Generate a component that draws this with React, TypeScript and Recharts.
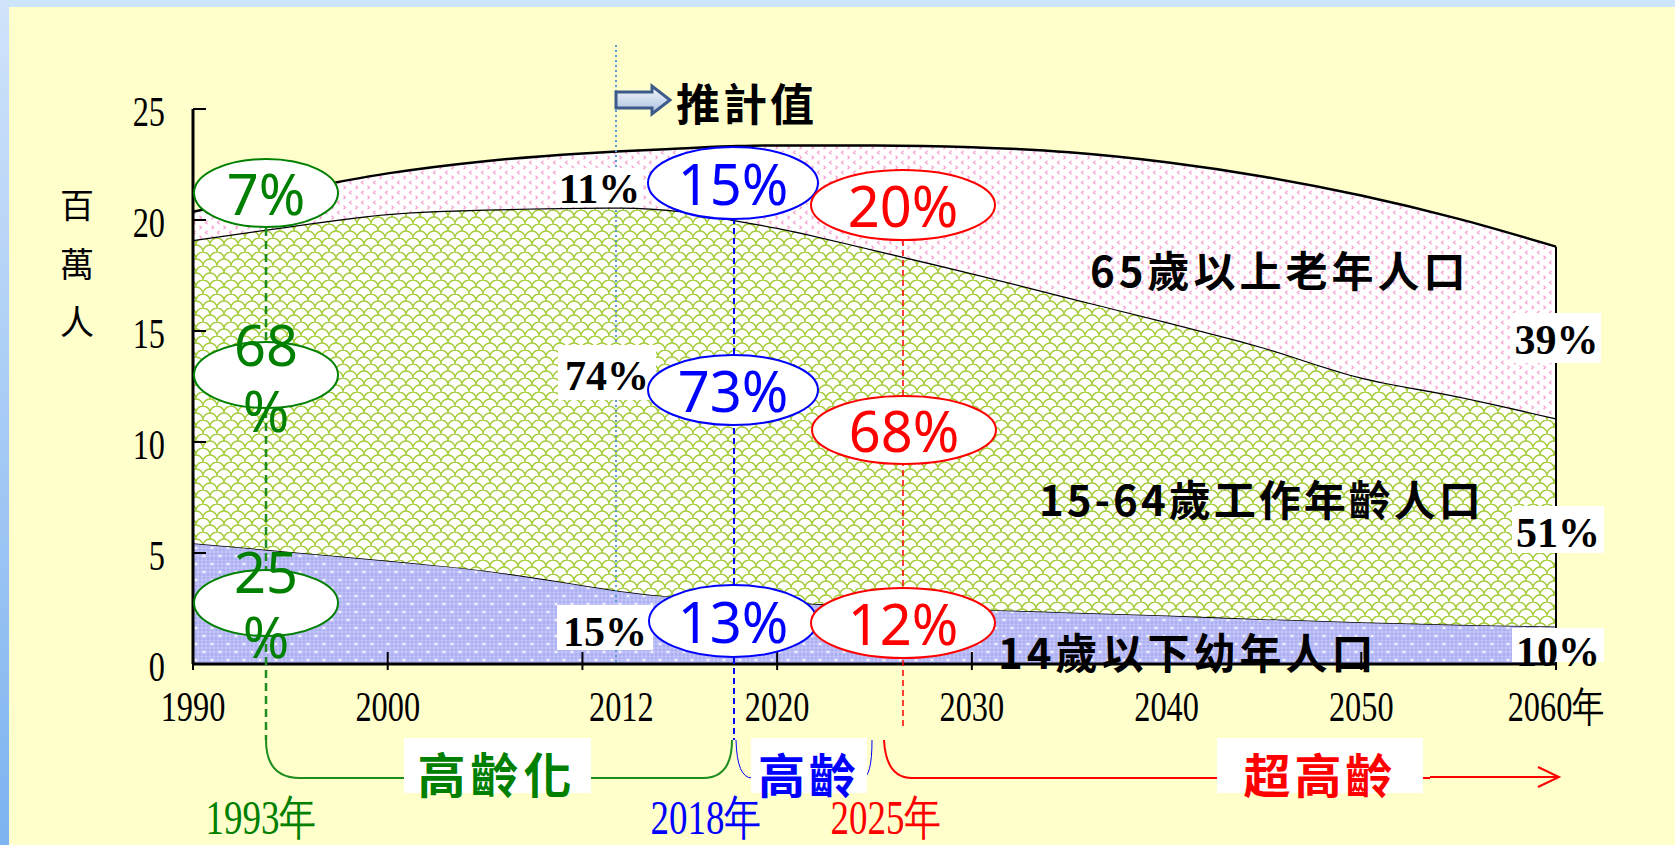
import React from 'react';
import { AreaChart, Area, XAxis, YAxis, ReferenceLine } from 'recharts';

// population by age group, millions
const years = [1990, 1995, 2000, 2005, 2010, 2012, 2015, 2018, 2020, 2025, 2030, 2035, 2040, 2045, 2050, 2055, 2060];
const age0to14 = [5.44, 5.05, 4.65, 4.2, 3.55, 3.28, 3.0, 2.85, 2.78, 2.6, 2.46, 2.32, 2.18, 2.02, 1.88, 1.77, 1.69];
const age15to64 = [13.66, 14.67, 15.62, 16.27, 17.0, 17.28, 17.4, 17.12, 16.87, 16.05, 15.14, 14.18, 13.22, 12.23, 11.02, 10.28, 9.38];
const age65plus = [1.27, 1.58, 1.83, 2.18, 2.45, 2.54, 2.82, 3.36, 3.71, 4.71, 5.68, 6.55, 7.2, 7.7, 8.2, 8.0, 7.73];

const yTicks = [0, 5, 10, 15, 20, 25];
const xTickMarks = [1990, 2000, 2010, 2020, 2030, 2040, 2050, 2060];
const xLabelYears = [1990, 2000, 2012, 2020, 2030, 2040, 2050, 2060];
const xLabelTexts = ['1990', '2000', '2012', '2020', '2030', '2040', '2050', '2060年'];

const data = years.map((year, i) => ({
  year,
  young: age0to14[i],
  working: age15to64[i],
  old: age65plus[i],
}));
const lastTotal = age0to14[age0to14.length - 1] + age15to64[age15to64.length - 1] + age65plus[age65plus.length - 1];
const xTicks = Array.from(new Set([...xTickMarks, ...xLabelYears])).sort((a, b) => a - b);

const SERIF = '"Liberation Serif", "Times New Roman", serif';
const CJK = '"Noto Sans CJK TC", "Noto Sans CJK SC", sans-serif';
const SANS = '"Noto Sans", "Open Sans", sans-serif';

const GREEN = '#008000';
const BLUE = '#0000FF';
const RED = '#FF0000';

function XTick(props: any) {
  const { x, y, payload } = props;
  const v = payload.value;
  const idx = xLabelYears.indexOf(v);
  return (
    <g>
      {xTickMarks.includes(v) && <line x1={x} x2={x} y1={y - 12} y2={y + 6} stroke="#000" strokeWidth={2} />}
      {idx >= 0 && (
        <text transform={`translate(${x},${y + 43}) scale(0.77,1)`} textAnchor="middle" dominantBaseline="central"
          fontFamily={SERIF} fontSize={42} fill="#000">{xLabelTexts[idx]}</text>
      )}
    </g>
  );
}

function YTick(props: any) {
  const { x, y, payload } = props;
  return (
    <g>
      {payload.value !== 0 && <line x1={x} x2={x + 13} y1={y} y2={y} stroke="#000" strokeWidth={2} />}
      <text transform={`translate(${x - 28},${y + 3}) scale(0.77,1)`} textAnchor="end" dominantBaseline="central"
        fontFamily={SERIF} fontSize={42} fill="#000">{payload.value}</text>
    </g>
  );
}

type Bubble = { cx: number; cy: number; rx: number; ry: number; color: string; lines: string[]; lineY: number[] };

const bubbles: Bubble[] = [
  { cx: 266, cy: 193, rx: 72, ry: 34, color: GREEN, lines: ['7%'], lineY: [193] },
  { cx: 266, cy: 375, rx: 72, ry: 33, color: GREEN, lines: ['68', '%'], lineY: [344, 410] },
  { cx: 266, cy: 603, rx: 72, ry: 33, color: GREEN, lines: ['25', '%'], lineY: [571, 636] },
  { cx: 733, cy: 183, rx: 85, ry: 36, color: BLUE, lines: ['15%'], lineY: [183] },
  { cx: 733, cy: 390, rx: 85, ry: 35, color: BLUE, lines: ['73%'], lineY: [390] },
  { cx: 733, cy: 621, rx: 84, ry: 36, color: BLUE, lines: ['13%'], lineY: [621] },
  { cx: 903, cy: 205, rx: 92, ry: 35, color: RED, lines: ['20%'], lineY: [205] },
  { cx: 904, cy: 430, rx: 92, ry: 34, color: RED, lines: ['68%'], lineY: [430] },
  { cx: 903, cy: 623, rx: 92, ry: 35, color: RED, lines: ['12%'], lineY: [623] },
];

const shareBoxes = [
  { x: 556, y: 168, w: 87, h: 39, text: '11%', cy: 189 },
  { x: 558, y: 345, w: 98, h: 55, text: '74%', cy: 376 },
  { x: 557, y: 605, w: 96, h: 45, text: '15%', cy: 632 },
  { x: 1512, y: 313, w: 89, h: 50, text: '39%', cy: 340 },
  { x: 1512, y: 506, w: 92, h: 47, text: '51%', cy: 533 },
  { x: 1512, y: 628, w: 92, h: 34, text: '10%', cy: 652 },
];

function Overlay() {
  return (
    <svg width={1675} height={845} style={{ position: 'absolute', left: 0, top: 0, pointerEvents: 'none' }}>
      <defs>
        <linearGradient id="arrowFill" x1="0" y1="0" x2="0" y2="1">
          <stop offset="0" stopColor="#F4F7FC" />
          <stop offset="1" stopColor="#A9BEDF" />
        </linearGradient>
      </defs>

      {/* y title */}
      {['百', '萬', '人'].map((c, i) => (
        <text key={c} x={77} y={[203, 262, 320][i]} textAnchor="middle" dominantBaseline="central"
          fontFamily={CJK} fontSize={34} fill="#000">{c}</text>
      ))}

      {/* projection marker */}
      <line x1={616} x2={616} y1={45} y2={664} stroke="#5B9BD5" strokeWidth={2} strokeDasharray="2 3" />
      <polygon points="616,92 652,92 652,86 670,100 652,114 652,108 616,108" fill="url(#arrowFill)" stroke="#3C5A8A" strokeWidth={3} />
      <text x={676} y={102} dominantBaseline="central" fontFamily={CJK} fontWeight={700} fontSize={44} letterSpacing={3} fill="#000">推計值</text>

      {/* year guide lines */}
      <line x1={266} x2={266} y1={228} y2={740} stroke="#1E8C1E" strokeWidth={2.5} strokeDasharray="8 5" />
      <line x1={734} x2={734} y1={218} y2={740} stroke={BLUE} strokeWidth={2} strokeDasharray="6 4" />
      <line x1={903} x2={903} y1={240} y2={730} stroke={RED} strokeWidth={1.5} strokeDasharray="6 4" />

      {/* share labels */}
      {shareBoxes.map((b) => (
        <g key={b.text + b.x + b.y}>
          <rect x={b.x} y={b.y} width={b.w} height={b.h} fill="#fff" />
          <text x={b.x + b.w / 2} y={b.cy} textAnchor="middle" dominantBaseline="central" fontFamily={SERIF}
            fontWeight={700} fontSize={42} fill="#000">{b.text}</text>
        </g>
      ))}

      {bubbles.map((b, i) => (
        <g key={i}>
          <ellipse cx={b.cx} cy={b.cy} rx={b.rx} ry={b.ry} fill="#fff" stroke={b.color} strokeWidth={2} />
          {b.lines.map((l, j) => (
            <text key={j} x={b.cx} y={b.lineY[j]} textAnchor="middle" dominantBaseline="central" fontFamily={SANS}
              fontSize={56} fill={b.color}>{l}</text>
          ))}
        </g>
      ))}

      {/* region names */}
      <text x={1090} y={268} dominantBaseline="central" fontFamily={CJK} fontWeight={700} fontSize={42} letterSpacing={4} fill="#000">65歲以上老年人口</text>
      <text x={1039} y={497} dominantBaseline="central" fontFamily={CJK} fontWeight={700} fontSize={42} letterSpacing={3} fill="#000">15-64歲工作年齡人口</text>
      <text x={998} y={650} dominantBaseline="central" fontFamily={CJK} fontWeight={700} fontSize={42} letterSpacing={4} fill="#000">14歲以下幼年人口</text>

      {/* period brackets */}
      <path d="M266,740 Q266,778 300,778 L703,778 Q732,778 732,740" fill="none" stroke="#1E8C1E" strokeWidth={2} />
      <path d="M736,740 Q737,778 752,778 L862,778 Q872,778 872,740" fill="none" stroke={BLUE} strokeWidth={1} />
      <path d="M884,740 Q886,778 912,778 L1430,778" fill="none" stroke={RED} strokeWidth={2} />
      <line x1={1430} x2={1558} y1={777} y2={777} stroke={RED} strokeWidth={2} />
      <polyline points="1538,767 1559,777 1538,787" fill="none" stroke={RED} strokeWidth={2} />

      <rect x={404} y={738} width={187} height={55} fill="#fff" />
      <text x={497} y={772} textAnchor="middle" dominantBaseline="central" fontFamily={CJK} fontWeight={700} fontSize={48} letterSpacing={5} fill={GREEN}>高齡化</text>
      <rect x={751} y={738} width={116} height={55} fill="#fff" />
      <text x={809} y={772} textAnchor="middle" dominantBaseline="central" fontFamily={CJK} fontWeight={700} fontSize={47} letterSpacing={4} fill={BLUE}>高齡</text>
      <rect x={1217} y={738} width={206} height={55} fill="#fff" />
      <text x={1320} y={772} textAnchor="middle" dominantBaseline="central" fontFamily={CJK} fontWeight={700} fontSize={47} letterSpacing={4} fill={RED}>超高齡</text>

      {/* threshold years */}
      <text transform="translate(261,818) scale(0.77,1)" textAnchor="middle" dominantBaseline="central" fontFamily={SERIF} fontSize={48} fill={GREEN}>1993年</text>
      <text transform="translate(706,818) scale(0.77,1)" textAnchor="middle" dominantBaseline="central" fontFamily={SERIF} fontSize={48} fill={BLUE}>2018年</text>
      <text transform="translate(886,818) scale(0.77,1)" textAnchor="middle" dominantBaseline="central" fontFamily={SERIF} fontSize={48} fill={RED}>2025年</text>
    </svg>
  );
}

export default function App() {
  return (
    <div style={{ position: 'fixed', left: 0, top: 0, width: 1675, height: 845, background: '#CCE4FC', overflow: 'hidden' }}>
      <div style={{ position: 'absolute', left: 0, top: 0, width: 9, height: 845, background: 'linear-gradient(#D0E3FA, #7DB3F0)' }} />
      <div style={{ position: 'absolute', left: 9, top: 7, right: 0, bottom: 0, background: '#FFFFCC' }} />
      <div style={{ position: 'absolute', left: 0, top: 0 }}>
        <AreaChart width={1675} height={845} data={data} margin={{ top: 109, right: 119, bottom: 121, left: 113 }}>
          <defs>
            <pattern id="patPink" width="12" height="10" patternUnits="userSpaceOnUse">
              <rect width="12" height="10" fill="#FFFFFF" />
              <path d="M3.5,0.8 L1.5,2.5 L3.5,4.2" stroke="#F5A3D3" strokeWidth="1.3" fill="none" />
              <path d="M7.5,5.8 L9.5,7.5 L7.5,9.2" stroke="#F5A3D3" strokeWidth="1.3" fill="none" />
            </pattern>
            <pattern id="patGreen" width="14" height="14" patternUnits="userSpaceOnUse">
              <rect width="14" height="14" fill="#FFFFFF" />
              <path d="M0,7 A7,7 0 0,1 14,7" stroke="#A5CC3A" strokeWidth="1.5" fill="none" />
              <path d="M-7,14 A7,7 0 0,1 7,14 M7,14 A7,7 0 0,1 21,14" stroke="#A5CC3A" strokeWidth="1.5" fill="none" />
            </pattern>
            <pattern id="patBlue" width="16" height="16" patternUnits="userSpaceOnUse">
              <rect width="16" height="16" fill="#ACAEF4" />
              <path d="M0,0 H16 M0,4 H16 M0,8 H16 M0,12 H16 M2,0 V16 M6,0 V16 M10,0 V16 M14,0 V16" stroke="#CBCCF8" strokeWidth="1" />
              <path d="M4,2.5 V5.5 M2.5,4 H5.5 M12,10.5 V13.5 M10.5,12 H13.5" stroke="#FFFFFF" strokeWidth="1.2" />
            </pattern>
          </defs>
          <XAxis dataKey="year" type="number" domain={[1990, 2060]} ticks={xTicks} interval={0} height={60}
            tickSize={0} tickMargin={0} tickLine={false} axisLine={{ stroke: '#000', strokeWidth: 3 }}
            tick={(p: any) => <XTick {...p} />} />
          <YAxis type="number" domain={[0, 25]} ticks={yTicks} interval={0} width={80}
            tickSize={0} tickMargin={0} tickLine={false} axisLine={{ stroke: '#000', strokeWidth: 3 }}
            tick={(p: any) => <YTick {...p} />} />
          <Area type="monotone" dataKey="young" stackId="pop" stroke="#000" strokeWidth={1.5}
            fill="url(#patBlue)" fillOpacity={1} isAnimationActive={false} />
          <Area type="monotone" dataKey="working" stackId="pop" stroke="#000" strokeWidth={2.5}
            fill="url(#patGreen)" fillOpacity={1} isAnimationActive={false} />
          <Area type="monotone" dataKey="old" stackId="pop" stroke="#000" strokeWidth={2.5}
            fill="url(#patPink)" fillOpacity={1} isAnimationActive={false} />
          <ReferenceLine segment={[{ x: 2060, y: 0 }, { x: 2060, y: lastTotal }]} stroke="#000" strokeWidth={2} />
        </AreaChart>
      </div>
      <Overlay />
    </div>
  );
}
